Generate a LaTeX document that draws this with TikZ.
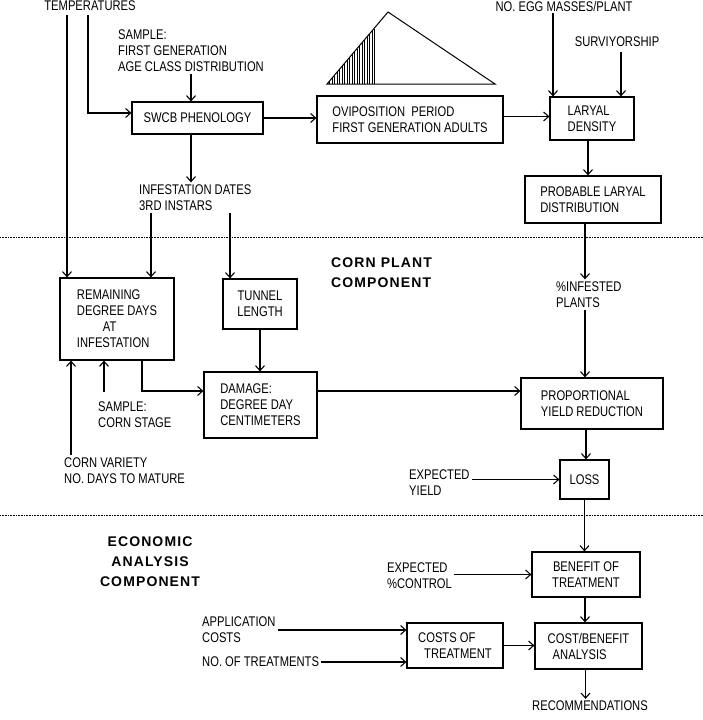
\documentclass[tikz,border=0pt]{standalone}
\usepackage{fontspec}
\setmainfont{Liberation Sans}[FakeStretch=0.8]
\newfontfamily\headfont{Liberation Sans}[LetterSpace=8]
\usetikzlibrary{arrows.meta}

\begin{document}
\begin{tikzpicture}[x=1pt,y=-1pt,
  font=\fontsize{14}{16}\selectfont,
  box/.style={draw,line width=1.2pt,align=left,inner sep=2pt},
  lbl/.style={align=left,inner sep=2pt,anchor=west},
  head/.style={font=\headfont\bfseries\fontsize{14}{20}\selectfont,inner sep=2pt},
  arr/.style={line width=1.1pt,-{Straight Barb[length=5pt,width=9pt]}},
  sep/.style={line width=0.6pt,densely dotted}]
\useasboundingbox (0,0) rectangle (703,720);
% Insect component, top row
\node[lbl,anchor=center,inner ysep=4pt] (temp) at (90,6) {TEMPERATURES};
\node[lbl] (samp1) at (116,51) {SAMPLE:\\FIRST GENERATION\\AGE CLASS DISTRIBUTION};
\node[lbl,anchor=center,inner ysep=2pt] (eggs) at (564,6) {NO. EGG MASSES/PLANT};
\node[lbl,anchor=center,inner ysep=5pt] (surv) at (617,42) {SURVIYORSHIP};
% Oviposition curve
\draw[line width=1pt] (327,84) -- (388,12) -- (495,84) -- cycle;
\foreach \hx in {329.5,332,...,372}
  \draw[line width=0.6pt] (\hx,84) -- (\hx,{84-(\hx-327)*72/61});
\draw[line width=1pt] (374,84) -- (374,{84-47*72/61});
% Second row
\node[box,minimum width=131pt,minimum height=32pt,align=center] (swcb) at (197.5,118) {SWCB PHENOLOGY};
\node[box,minimum width=186pt,minimum height=47pt] (ovip) at (410,119.5) {OVIPOSITION\ \ PERIOD\\FIRST GENERATION ADULTS};
\node[box,minimum width=84pt,minimum height=43pt] (lden) at (592,118.5) {LARYAL\\DENSITY};
% Third row
\node[box,minimum width=136pt,minimum height=47pt] (plard) at (593,199.5) {PROBABLE LARYAL\\DISTRIBUTION};
\node[lbl] (infd) at (137,197.5) {INFESTATION DATES\\3RD INSTARS};

% Corn plant component
\draw[sep] (0,237) -- (703,237);
\node[head,anchor=west,align=left] (cpc) at (329,273) {CORN PLANT\\COMPONENT};
\node[lbl] (infp) at (554,294.5) {\%INFESTED\\PLANTS};
\node[box,minimum width=114pt,minimum height=82pt] (remn) at (117,319) {REMAINING\\DEGREE DAYS\\\hspace*{26pt}AT\\INFESTATION};
\node[box,minimum width=74pt,minimum height=50pt,align=center] (tunl) at (260,304) {TUNNEL\\LENGTH};
\node[box,minimum width=113pt,minimum height=66pt] (dmg) at (260.5,405) {DAMAGE:\\DEGREE DAY\\CENTIMETERS};
\node[box,minimum width=142pt,minimum height=51pt] (pyr) at (592,403.5) {PROPORTIONAL\\YIELD REDUCTION};
\node[lbl] (scs) at (96,415) {SAMPLE:\\CORN STAGE};
\coordinate (scs-top) at ([yshift=8pt]scs.north);
\node[lbl] (cvar) at (62,470.5) {CORN VARIETY\\NO. DAYS TO MATURE};
\node[lbl] (eyld) at (407,482.5) {EXPECTED\\YIELD};
\node[box,minimum width=49pt,minimum height=39pt,align=center] (loss) at (584.5,479.5) {LOSS};

% Economic analysis component
\draw[sep] (0,515) -- (703,515);
\node[head,align=center] (eac) at (150,562) {ECONOMIC\\ANALYSIS\\COMPONENT};
\node[box,minimum width=108pt,minimum height=45pt,align=center] (bene) at (586,574.5) {BENEFIT OF\\TREATMENT};
\node[lbl] (ectl) at (385,575.5) {EXPECTED\\\%CONTROL};
\node[box,minimum width=96pt,minimum height=45pt] (cost) at (455,645.5) {COSTS OF\\\hspace*{6pt}TREATMENT};
\node[box,minimum width=107pt,minimum height=46pt] (cbn) at (588.5,646) {COST/BENEFIT\\\hspace*{5pt}ANALYSIS};
\node[lbl] (appc) at (200,630) {APPLICATION\\COSTS};
\node[lbl] (notr) at (200,662) {NO. OF TREATMENTS};
\node[lbl,anchor=center] (recm) at (590,706) {RECOMMENDATIONS};

% Edges
\draw[arr] ([xshift=-23pt]temp.south) -- ([xshift=-23pt]temp.south |- remn.north);
\draw[arr] ([xshift=-2pt]temp.south) |- ([yshift=5pt]swcb.west);
\draw[arr] (samp1.south) -- (samp1.south |- swcb.north);
\draw[arr] (swcb.east) -- (swcb.east -| ovip.west);
\draw[arr] ([yshift=3pt]ovip.east) -- ([yshift=3pt]ovip.east -| lden.west);
\draw[arr] ([xshift=-11pt]eggs.south) -- ([xshift=-11pt]eggs.south |- lden.north);
\draw[arr] ([xshift=4pt]surv.south) -- ([xshift=4pt]surv.south |- lden.north);
\draw[arr] ([xshift=-4pt]lden.south) -- ([xshift=-4pt]lden.south |- plard.north);
\draw[arr] ([xshift=-8pt]plard.south) -- ([xshift=-8pt]plard.south |- infp.north);
\draw[arr] ([xshift=-8pt]plard.south |- infp.south) -- ([xshift=-8pt]plard.south |- pyr.north);
\draw[arr] ([xshift=-6.5pt]swcb.south) -- ([xshift=-6.5pt]swcb.south |- infd.north);
\draw[arr] ([xshift=34pt]remn.north |- infd.south) -- ([xshift=34pt]remn.north);
\draw[arr] ([xshift=-30pt]tunl.north |- infd.south) -- ([xshift=-30pt]tunl.north);
\draw[arr] (tunl.south) -- (tunl.south |- dmg.north);
\draw[arr] ([xshift=25pt]remn.south) |- ([yshift=14pt]dmg.west);
\draw[arr] ([xshift=-13pt]remn.south |- scs-top) -- ([xshift=-13pt]remn.south);
\draw[arr] ([xshift=-46pt]remn.south |- cvar.north) -- ([xshift=-46pt]remn.south);
\draw[arr] ([yshift=14pt]dmg.east) -- ([yshift=14pt]dmg.east -| pyr.west);
\draw[arr] ([xshift=-6pt]pyr.south) -- ([xshift=-6pt]pyr.south |- loss.north);
\draw[arr] (eyld.east |- loss.west) -- (loss.west);
\draw[arr] (loss.south) -- (loss.south |- bene.north);
\draw[arr] (ectl.east |- bene.west) -- (bene.west);
\draw[arr] ([xshift=-1pt]bene.south) -- ([xshift=-1pt]bene.south |- cbn.north);
\draw[arr] (cost.east) -- (cost.east -| cbn.west);
\draw[arr] (appc.east) -- (appc.east -| cost.west);
\draw[arr] (notr.east) -- (notr.east -| cost.west);
\draw[arr] ([xshift=-3pt]cbn.south) -- ([xshift=-3pt]cbn.south |- recm.north);
\end{tikzpicture}
\end{document}
